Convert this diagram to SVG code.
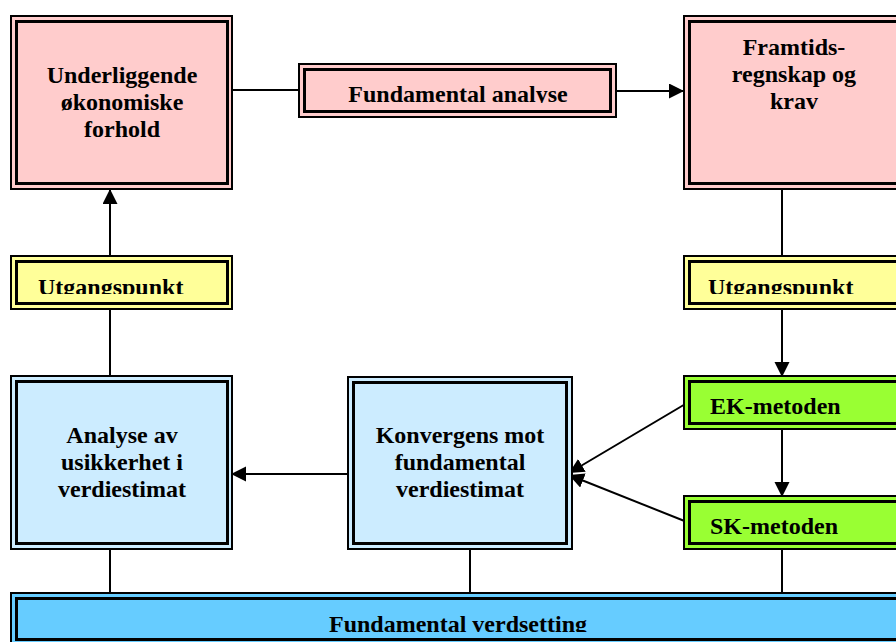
<svg xmlns="http://www.w3.org/2000/svg" width="896" height="642" viewBox="0 0 896 642">
  <style>
    .frame { stroke: #000; stroke-width: 2; }
    .core { fill: none; stroke: #000; stroke-width: 3; }
    .pink { fill: #FFCCCC; }
    .yellow { fill: #FFFF99; }
    .green { fill: #99FF33; }
    .sky { fill: #CCECFF; }
    .blue { fill: #66CCFF; }
    .label { font-family: "Liberation Serif", "Times New Roman", serif; font-weight: bold; font-size: 24px; fill: #000; }
    .mid { text-anchor: middle; }
    .wire { fill: none; stroke: #000; stroke-width: 2; }
  </style>
  <defs>
    <marker id="arrow" markerUnits="userSpaceOnUse" markerWidth="16" markerHeight="16" refX="15" refY="7.5" orient="auto">
      <path d="M0,0 L15,7.5 L0,15 z" fill="#000"/>
    </marker>
    <clipPath id="clipFA"><rect x="298" y="63" width="319" height="40"/></clipPath>
    <clipPath id="clipUL"><rect x="10" y="255" width="223" height="39"/></clipPath>
    <clipPath id="clipUR"><rect x="683" y="255" width="223" height="39"/></clipPath>
    <clipPath id="clipEK"><rect x="683" y="375" width="223" height="39"/></clipPath>
    <clipPath id="clipSK"><rect x="683" y="495" width="223" height="39"/></clipPath>
    <clipPath id="clipFV"><rect x="10" y="592" width="900" height="40"/></clipPath>
  </defs>

  <!-- connectors -->
  <g id="connectors">
    <line class="wire" x1="233" y1="90" x2="298" y2="90"/>
    <line class="wire" x1="617" y1="91" x2="684" y2="91" marker-end="url(#arrow)"/>
    <line class="wire" x1="110" y1="255" x2="110" y2="189" marker-end="url(#arrow)"/>
    <line class="wire" x1="110" y1="375" x2="110" y2="310"/>
    <line class="wire" x1="782" y1="190" x2="782" y2="255"/>
    <line class="wire" x1="782" y1="310" x2="782" y2="377" marker-end="url(#arrow)"/>
    <line class="wire" x1="782" y1="430" x2="782" y2="497" marker-end="url(#arrow)"/>
    <line class="wire" x1="347" y1="474" x2="231" y2="474" marker-end="url(#arrow)"/>
    <line class="wire" x1="687" y1="403" x2="569" y2="473" marker-end="url(#arrow)"/>
    <line class="wire" x1="687" y1="522" x2="569" y2="475" marker-end="url(#arrow)"/>
    <line class="wire" x1="110" y1="550" x2="110" y2="592" stroke-width="1.5"/>
    <line class="wire" x1="470" y1="550" x2="470" y2="592" stroke-width="1.5"/>
    <line class="wire" x1="782" y1="550" x2="782" y2="592" stroke-width="1.5"/>
  </g>

  <!-- economic conditions -->
  <g id="underliggende">
    <rect class="frame pink" x="11" y="16" width="221" height="173"/>
    <rect class="core" x="16.5" y="21.5" width="211" height="162"/>
    <text class="label mid" x="122" y="83">Underliggende</text>
    <text class="label mid" x="122" y="110">økonomiske</text>
    <text class="label mid" x="122" y="137">forhold</text>
  </g>

  <g id="fundamental-analyse">
    <rect class="frame pink" x="299" y="64" width="317" height="53"/>
    <rect class="core" x="304.5" y="69.5" width="306" height="42"/>
    <text class="label mid" x="458" y="102" clip-path="url(#clipFA)">Fundamental analyse</text>
  </g>

  <g id="framtidsregnskap">
    <rect class="frame pink" x="684" y="16" width="221" height="173"/>
    <rect class="core" x="689.5" y="21.5" width="211" height="162"/>
    <text class="label mid" x="794" y="55">Framtids-</text>
    <text class="label mid" x="794" y="82">regnskap og</text>
    <text class="label mid" x="794" y="109">krav</text>
  </g>

  <g id="utgangspunkt-venstre">
    <rect class="frame yellow" x="11" y="256" width="221" height="53"/>
    <rect class="core" x="16.5" y="261.5" width="211" height="42"/>
    <text class="label" x="38" y="295" clip-path="url(#clipUL)">Utgangspunkt</text>
  </g>

  <g id="utgangspunkt-hoyre">
    <rect class="frame yellow" x="684" y="256" width="221" height="53"/>
    <rect class="core" x="689.5" y="261.5" width="211" height="42"/>
    <text class="label" x="708" y="295" clip-path="url(#clipUR)">Utgangspunkt</text>
  </g>

  <g id="ek-metoden">
    <rect class="frame green" x="684" y="376" width="221" height="53"/>
    <rect class="core" x="689.5" y="381.5" width="211" height="42"/>
    <text class="label" x="710" y="414" clip-path="url(#clipEK)">EK-metoden</text>
  </g>

  <g id="sk-metoden">
    <rect class="frame green" x="684" y="496" width="221" height="53"/>
    <rect class="core" x="689.5" y="501.5" width="211" height="42"/>
    <text class="label" x="710" y="534" clip-path="url(#clipSK)">SK-metoden</text>
  </g>

  <g id="analyse-usikkerhet">
    <rect class="frame sky" x="11" y="376" width="221" height="173"/>
    <rect class="core" x="16.5" y="381.5" width="211" height="162"/>
    <text class="label mid" x="122" y="443">Analyse av</text>
    <text class="label mid" x="122" y="470">usikkerhet i</text>
    <text class="label mid" x="122" y="497">verdiestimat</text>
  </g>

  <g id="konvergens">
    <rect class="frame sky" x="348" y="377" width="224" height="172"/>
    <rect class="core" x="353.5" y="382.5" width="213" height="161"/>
    <text class="label mid" x="460" y="443">Konvergens mot</text>
    <text class="label mid" x="460" y="470">fundamental</text>
    <text class="label mid" x="460" y="497">verdiestimat</text>
  </g>

  <g id="fundamental-verdsetting">
    <rect class="frame blue" x="11" y="593" width="900" height="53"/>
    <rect class="core" x="16.5" y="598.5" width="890" height="41"/>
    <text class="label mid" x="458" y="632" clip-path="url(#clipFV)">Fundamental verdsetting</text>
  </g>
</svg>
